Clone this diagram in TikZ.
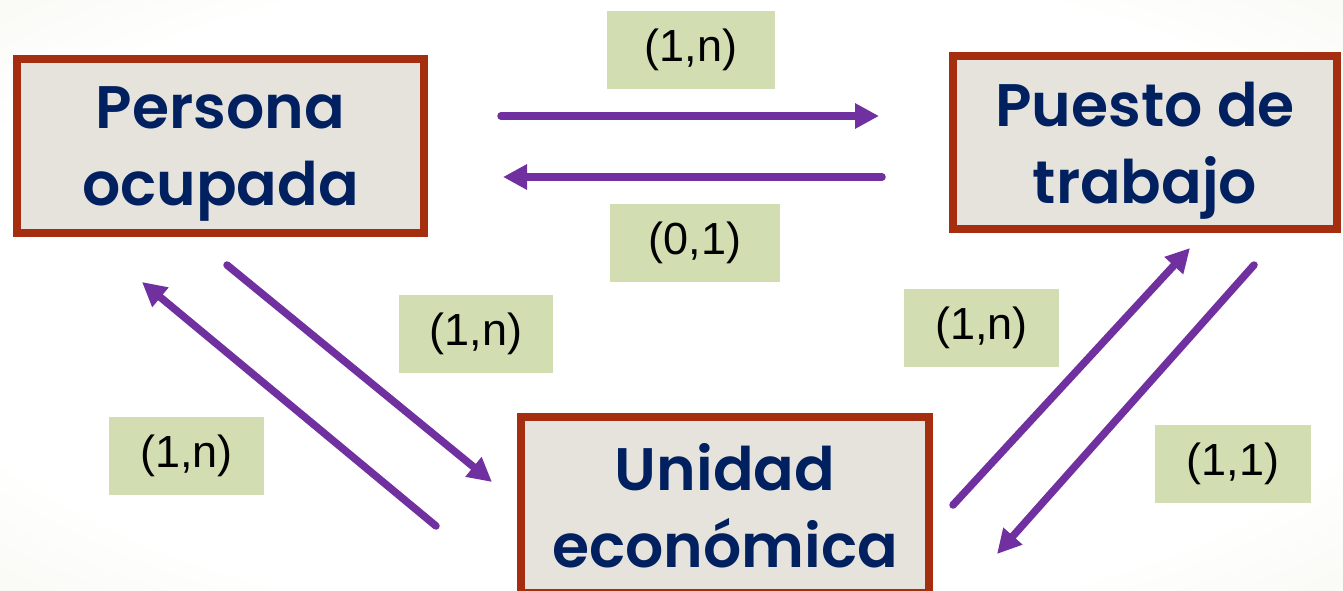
\documentclass[tikz,border=0pt]{standalone}
\usepackage{fontspec}
\setmainfont{Liberation Sans}
\newfontfamily\boxfont{Poppins}[UprightFont=* SemiBold, BoldFont=* SemiBold]
\usetikzlibrary{arrows.meta}
\definecolor{bggreen}{RGB}{238,242,225}
\definecolor{boxfill}{RGB}{230,227,221}
\definecolor{boxline}{RGB}{165,46,16}
\definecolor{navy}{RGB}{0,32,96}
\definecolor{labgreen}{RGB}{211,221,178}
\definecolor{arrowpurple}{RGB}{112,48,160}
\pgfdeclareradialshading{bgshade}{\pgfpoint{0bp}{0bp}}{color(0bp)=(white); color(28bp)=(white); color(50bp)=(bggreen); color(100bp)=(bggreen)}
\tikzset{
  entity/.style={draw=boxline, line width=8pt, fill=boxfill, text=navy,
    align=center, inner sep=0pt, text depth=0pt,
    font=\boxfont\fontsize{60}{77}\selectfont},
  card/.style={fill=labgreen, inner sep=0pt, minimum height=78pt,
    font=\fontsize{45}{50}\selectfont, text=black},
  rel/.style={draw=arrowpurple, line width=7.5pt, line cap=round,
    -{Triangle[length=24pt,width=24pt]}}
}
\begin{document}
\begin{tikzpicture}[x=1pt,y=-1pt]
\useasboundingbox (0,0) rectangle (1343,591);
\shade[shading=bgshade] (0,0) rectangle (1343,591);
% entities
\node[entity, minimum width=407pt, minimum height=174pt] (po) at (220.5,146) {Persona\\ocupada};
\node[entity, minimum width=384pt, minimum height=173pt] (pt) at (1145,142.5) {Puesto de\\trabajo};
\node[entity, minimum width=408pt, minimum height=176pt] (ue) at (725,505) {Unidad\\económica};
% cardinality labels
\node[card, minimum width=168pt] (l1) at (691,50) {(1,n)};
\node[card, minimum width=170pt] (l2) at (695,243) {(0,1)};
\node[card, minimum width=154pt] (l3) at (476,334) {(1,n)};
\node[card, minimum width=155pt] (l4) at (186.5,456) {(1,n)};
\node[card, minimum width=155pt] (l5) at (981.5,328) {(1,n)};
\node[card, minimum width=156pt] (l6) at (1233,464) {(1,1)};
% arrow end points
\coordinate (a1s) at (501,116); \coordinate (a1e) at (879,116);
\coordinate (a2s) at (882,177); \coordinate (a2e) at (503,177);
\coordinate (a3s) at (227,265); \coordinate (a3e) at (492,482);
\coordinate (a4s) at (436,526); \coordinate (a4e) at (142,282);
\coordinate (a5s) at (953,505); \coordinate (a5e) at (1190,248);
\coordinate (a6s) at (1254,265); \coordinate (a6e) at (997,554);
\draw[rel] (a1s) -- (a1e);
\draw[rel] (a2s) -- (a2e);
\draw[rel] (a3s) -- (a3e);
\draw[rel] (a4s) -- (a4e);
\draw[rel] (a5s) -- (a5e);
\draw[rel] (a6s) -- (a6e);
\end{tikzpicture}
\end{document}
